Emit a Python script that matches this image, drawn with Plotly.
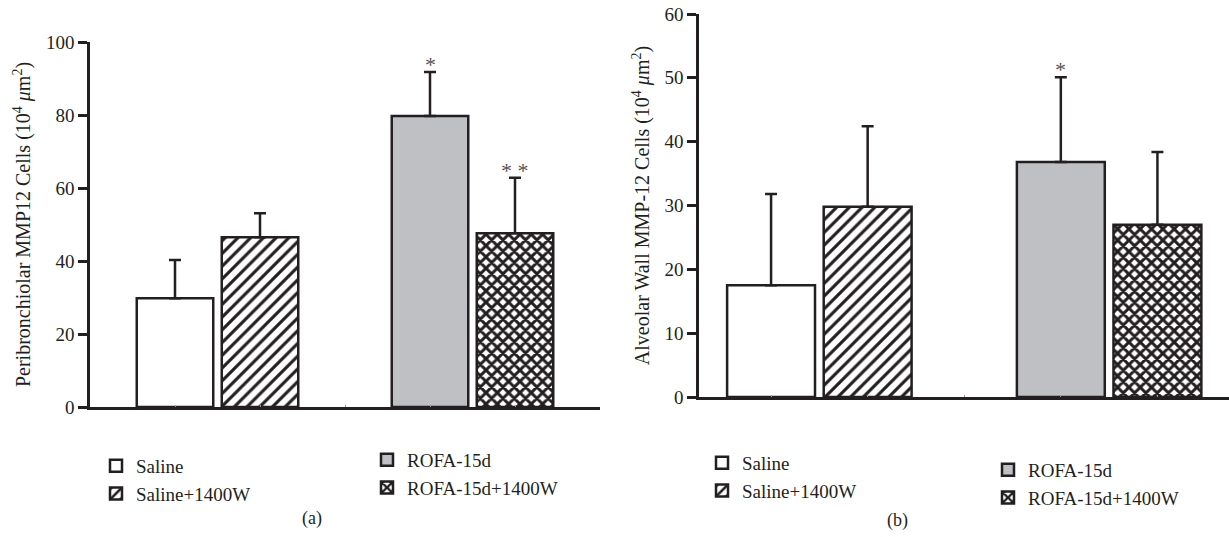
import plotly.graph_objects as go

groups = ["Saline", "Saline+1400W", "ROFA-15d", "ROFA-15d+1400W"]
positions = [1, 2, 4, 5]

# Panel (a): Peribronchiolar MMP12 cells
a_mean = [29.8, 46.5, 79.7, 47.6]
a_err = [10.5, 6.6, 12.1, 15.2]
a_marks = ["", "", "*", "* *"]

# Panel (b): Alveolar wall MMP-12 cells
b_mean = [17.5, 29.8, 36.8, 27.0]
b_err = [14.3, 12.6, 13.3, 11.4]
b_marks = ["", "", "*", ""]

a_ticks = [0, 20, 40, 60, 80, 100]
b_ticks = [0, 10, 20, 30, 40, 50, 60]

INK = "#231f20"
FONT = "Liberation Serif"

styles = [
    dict(color="white", pattern=dict(shape="")),
    dict(color="white", pattern=dict(shape="/", fgcolor=INK, bgcolor="white", size=9,
                                     solidity=0.35, fgopacity=1)),
    dict(color="#bfc0c3", pattern=dict(shape="")),
    dict(color="white", pattern=dict(shape="x", fgcolor=INK, bgcolor="white", size=8,
                                     solidity=0.6, fgopacity=1)),
]

fig = go.Figure()

def add_panel(means, errs, xa, ya, legs, width):
    for i, g in enumerate(groups):
        st = styles[i]
        fig.add_trace(go.Bar(
            x=[positions[i]], y=[means[i]], name=g,
            xaxis=xa, yaxis=ya, width=width,
            legend=legs[0] if i < 2 else legs[1],
            marker=dict(color=st["color"], pattern=st["pattern"],
                        line=dict(color=INK, width=2.5)),
            error_y=dict(type="data", array=[errs[i]], arrayminus=[0],
                         symmetric=False, color=INK, thickness=2.5, width=6),
            showlegend=True,
        ))

add_panel(a_mean, a_err, "x", "y", ["legend", "legend2"], 0.9)
add_panel(b_mean, b_err, "x2", "y2", ["legend3", "legend4"], 0.91)

annotations = []
for i, m in enumerate(a_marks):
    if m:
        annotations.append(dict(x=positions[i], y=a_mean[i] + a_err[i], xref="x", yref="y",
                                text=m, showarrow=False, yanchor="bottom", yshift=-7,
                                font=dict(family=FONT, size=22, color="#555")))
for i, m in enumerate(b_marks):
    if m:
        annotations.append(dict(x=positions[i], y=b_mean[i] + b_err[i], xref="x2", yref="y2",
                                text=m, showarrow=False, yanchor="bottom", yshift=-7,
                                font=dict(family=FONT, size=22, color="#555")))
annotations.append(dict(x=300/1229, y=1-518/537, xref="paper", yref="paper", text="(a)",
                        showarrow=False, yanchor="middle",
                        font=dict(family=FONT, size=18, color=INK)))
annotations.append(dict(x=910/1229, y=1-520/537, xref="paper", yref="paper", text="(b)",
                        showarrow=False, yanchor="middle",
                        font=dict(family=FONT, size=18, color=INK)))

axis_common = dict(showline=True, linecolor=INK, linewidth=2.5, showgrid=False, zeroline=False)
xcommon = dict(axis_common, tickvals=positions + [3], ticks="inside", ticklen=2, tickwidth=1,
               tickcolor="#999", showticklabels=False)
ycommon = dict(axis_common, ticks="outside", ticklen=9, tickwidth=2.5, tickcolor=INK,
               tickfont=dict(family=FONT, size=19, color=INK))

leg = dict(font=dict(family=FONT, size=19, color=INK), bgcolor="rgba(0,0,0,0)",
           xanchor="left", yanchor="top", tracegroupgap=0, itemwidth=30)

fig.update_layout(
    width=1229, height=537,
    margin=dict(l=0, r=0, t=0, b=0, autoexpand=False),
    paper_bgcolor="white", plot_bgcolor="white",
    showlegend=True,
    barmode="overlay",
    xaxis=dict(xcommon, domain=[90/1229, 600/1229], range=[0, 6], anchor="y"),
    yaxis=dict(ycommon, domain=[1-407/537, 1-42/537], range=[0, 100], tickvals=a_ticks,
               anchor="x",
               title=dict(text="Peribronchiolar MMP12 Cells (10<sup>4</sup> <i>μ</i>m<sup>2</sup>)",
                          font=dict(family=FONT, size=20, color=INK), standoff=10)),
    xaxis2=dict(xcommon, domain=[699/1229, 1.0], range=[0.254, 5.741], anchor="y2"),
    yaxis2=dict(ycommon, domain=[1-397/537, 1-14/537], range=[0, 60], tickvals=b_ticks,
                anchor="x2",
                title=dict(text="Alveolar Wall MMP-12 Cells (10<sup>4</sup> <i>μ</i>m<sup>2</sup>)",
                           font=dict(family=FONT, size=20, color=INK), standoff=10)),
    legend=dict(leg, x=96/1229, y=1-447/537),
    legend2=dict(leg, x=367/1229, y=1-441/537),
    legend3=dict(leg, x=702/1229, y=1-444/537),
    legend4=dict(leg, x=988/1229, y=1-451/537),
    annotations=annotations,
)

fig.write_html("out.html")
